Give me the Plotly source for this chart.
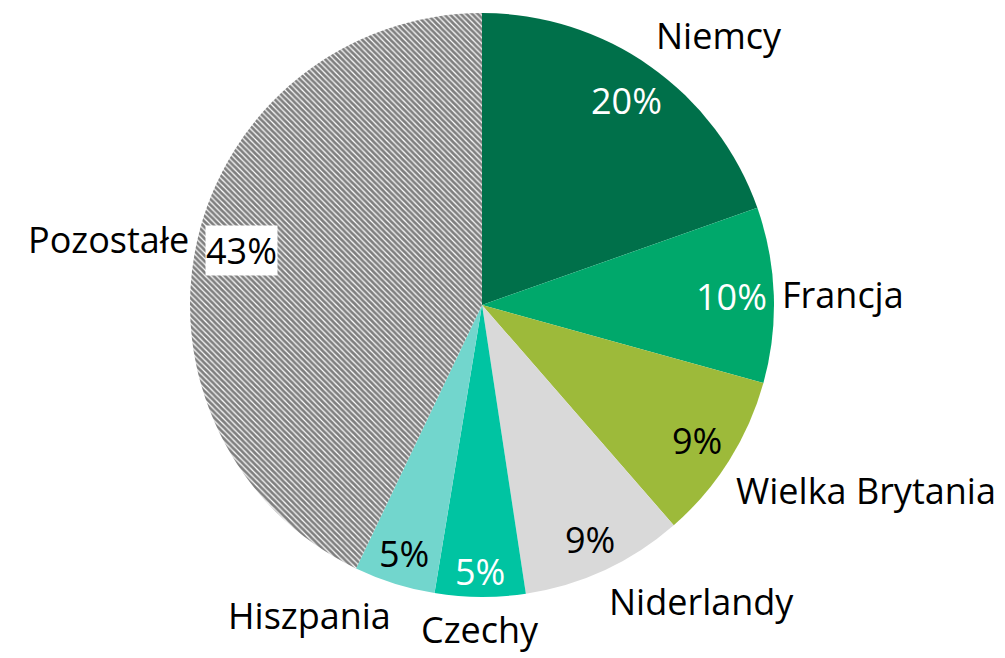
import math
import plotly.graph_objects as go

countries = ["Niemcy", "Francja", "Wielka Brytania", "Niderlandy", "Czechy", "Hiszpania", "Pozostałe"]
shares = [19.6, 9.7, 9.3, 9.0, 5.0, 4.5, 42.9]
pct_labels = ["20%", "10%", "9%", "9%", "5%", "5%", "43%"]
colors = ["#00704A", "#00A86B", "#9DBA3A", "#D9D9D9", "#00C4A2", "#72D6CD", "#FFFFFF"]
pct_font_colors = ["white", "white", "black", "black", "white", "black", "black"]
pct_boxed = [False, False, False, False, False, False, True]

FONT = "Open Sans"
FS = 36
W, H = 1005, 658

# pie box in figure pixels (left, right, top, bottom)
box = (182, 766, 5, 589)
dom_x = [box[0] / W, box[1] / W]
dom_y = [1 - box[3] / H, 1 - box[2] / H]
CX = (box[0] + box[1]) / 2
CY = (box[2] + box[3]) / 2
R = min(box[1] - box[0], box[3] - box[2]) / 2

patterns = dict(
    shape=["", "", "", "", "", "", "\\"],
    fgcolor="black",
    bgcolor="white",
    size=4,
    solidity=0.7,
    fillmode="overlay",
)

fig = go.Figure()
fig.add_trace(go.Pie(
    labels=countries,
    values=shares,
    sort=False,
    direction="clockwise",
    rotation=0,
    marker=dict(colors=colors, line=dict(width=0), pattern=patterns),
    textinfo="none",
    domain=dict(x=dom_x, y=dom_y),
    showlegend=False,
    hoverinfo="label+percent",
))

# label geometry derived from the slice mid-angles
total = sum(shares)
cum = 0.0
char_w = {"%": 0.84}
for name, v, pl, fc, boxed in zip(countries, shares, pct_labels, pct_font_colors, pct_boxed):
    mid = (cum + v / 2) / total * 2 * math.pi
    cum += v
    s, c = math.sin(mid), math.cos(mid)

    # percentage label: "inside end" — box pushed against the outer edge
    w = sum(char_w.get(ch, 0.572) for ch in pl) * FS
    h = FS * 1.05
    d = R - 6 - (abs(w * s) + abs(h * c)) / 2
    fig.add_annotation(
        x=(CX + d * s) / W, y=1 - (CY - d * c) / H,
        xref="paper", yref="paper", showarrow=False,
        xanchor="center", yanchor="middle",
        text=pl,
        bgcolor="white" if boxed else "rgba(0,0,0,0)",
        borderpad=0,
        font=dict(family=FONT, size=FS, color=fc),
    )

    # category label outside the pie
    ro = R + 6
    xa = "left" if s > 0.25 else ("right" if s < -0.25 else "center")
    ya = "bottom" if c > 0.3 else ("top" if c < -0.3 else "middle")
    fig.add_annotation(
        x=(CX + ro * s) / W, y=1 - (CY - ro * c) / H,
        xref="paper", yref="paper", showarrow=False,
        xanchor=xa, yanchor=ya,
        text=name,
        font=dict(family=FONT, size=FS, color="black"),
    )

fig.update_layout(
    width=W,
    height=H,
    margin=dict(l=0, r=0, t=0, b=0),
    paper_bgcolor="white",
    plot_bgcolor="white",
    font=dict(family=FONT),
)

fig.write_html("out.html")
